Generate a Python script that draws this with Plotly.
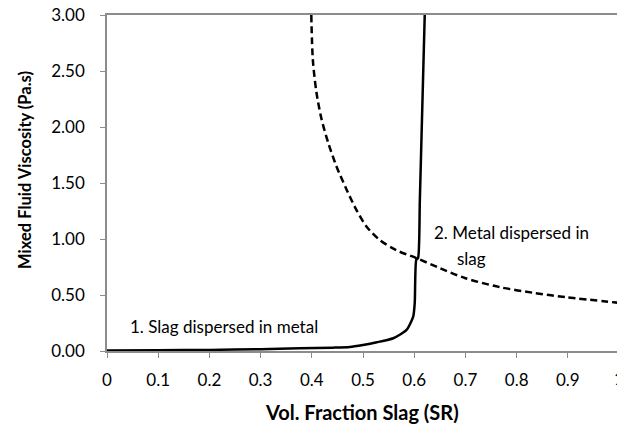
import plotly.graph_objects as go

# Data
sr_metal = [0.0, 0.1, 0.2, 0.3, 0.376, 0.441, 0.474, 0.5, 0.527, 0.559, 0.585, 0.598, 0.601, 0.604, 0.6075, 0.611, 0.6205]
mu_metal = [0.005, 0.007, 0.010, 0.016, 0.024, 0.030, 0.036, 0.054, 0.078, 0.114, 0.188, 0.307, 0.43, 0.815, 0.83, 1.35, 3.0]

sr_slag = [0.399, 0.402, 0.409, 0.419, 0.432, 0.448, 0.468, 0.487, 0.507, 0.533, 0.565, 0.604, 0.65, 0.70, 0.767, 0.832, 0.897, 1.0]
mu_slag = [3.0, 2.6, 2.31, 2.07, 1.86, 1.65, 1.44, 1.26, 1.11, 0.99, 0.90, 0.83, 0.74, 0.65, 0.57, 0.52, 0.48, 0.43]

x_ticks = [0, 0.1, 0.2, 0.3, 0.4, 0.5, 0.6, 0.7, 0.8, 0.9, 1]
x_tick_labels = ["0", "0.1", "0.2", "0.3", "0.4", "0.5", "0.6", "0.7", "0.8", "0.9", "1"]
y_ticks = [0, 0.5, 1.0, 1.5, 2.0, 2.5, 3.0]
y_tick_labels = ["0.00", "0.50", "1.00", "1.50", "2.00", "2.50", "3.00"]

FONT = "Lato"
AXIS_GREY = "#8c8c8c"
TXT = 17

fig = go.Figure()
fig.add_trace(go.Scatter(x=sr_metal, y=mu_metal, mode="lines",
                         line=dict(color="black", width=2.5, shape="spline", smoothing=0.6),
                         showlegend=False))
fig.add_trace(go.Scatter(x=sr_slag, y=mu_slag, mode="lines",
                         line=dict(color="black", width=2.5, dash="7px,4px", shape="spline", smoothing=0.8),
                         showlegend=False))

fig.update_layout(
    width=617, height=425,
    margin=dict(l=107, r=0, t=15, b=74),
    plot_bgcolor="white", paper_bgcolor="white",
    font=dict(family=FONT, size=TXT, color="black"),
    xaxis=dict(range=[0, 0.996], tickvals=x_ticks[:-1], ticktext=x_tick_labels[:-1],
               showgrid=False, zeroline=False, showline=True, linecolor=AXIS_GREY, linewidth=1.5,
               mirror=True, ticks="outside", ticklen=5, tickcolor=AXIS_GREY, tickwidth=1,
               ticklabelstandoff=8, tickfont=dict(family=FONT, size=TXT)),
    yaxis=dict(range=[0, 3], tickvals=y_ticks, ticktext=y_tick_labels,
               showgrid=False, zeroline=False, showline=True, linecolor=AXIS_GREY, linewidth=1.5,
               ticks="outside", ticklen=5, tickcolor=AXIS_GREY, tickwidth=1,
               ticklabelstandoff=12, tickfont=dict(family=FONT, size=TXT)),
)

annotations = [
    dict(text="1. Slag dispersed in metal", xref="x", yref="y", x=0.041, y=0.215,
         xanchor="left", yanchor="middle", showarrow=False, font=dict(family=FONT, size=TXT)),
    dict(text="2. Metal dispersed in", xref="x", yref="y", x=0.635, y=1.06,
         xanchor="left", yanchor="middle", showarrow=False, font=dict(family=FONT, size=TXT)),
    dict(text="slag", xref="x", yref="y", x=0.68, y=0.83,
         xanchor="left", yanchor="middle", showarrow=False, font=dict(family=FONT, size=TXT)),
    dict(text=x_tick_labels[-1], xref="paper", yref="paper", x=1.0045, y=0, yshift=-27,
         xanchor="center", yanchor="middle", showarrow=False, font=dict(family=FONT, size=TXT)),
    dict(text="<b>Vol. Fraction Slag (SR)</b>", xref="paper", yref="paper", x=0.5, y=0,
         yshift=-61, xanchor="center", yanchor="middle", showarrow=False,
         font=dict(family=FONT, size=20)),
    dict(text="<b>Mixed Fluid Viscosity (Pa.s)</b>", xref="paper", yref="paper", x=0, y=0.539,
         xshift=-82, textangle=-90, xanchor="center", yanchor="middle", showarrow=False,
         font=dict(family=FONT, size=16.5)),
]
fig.update_layout(annotations=annotations)

fig.write_html("out.html")
